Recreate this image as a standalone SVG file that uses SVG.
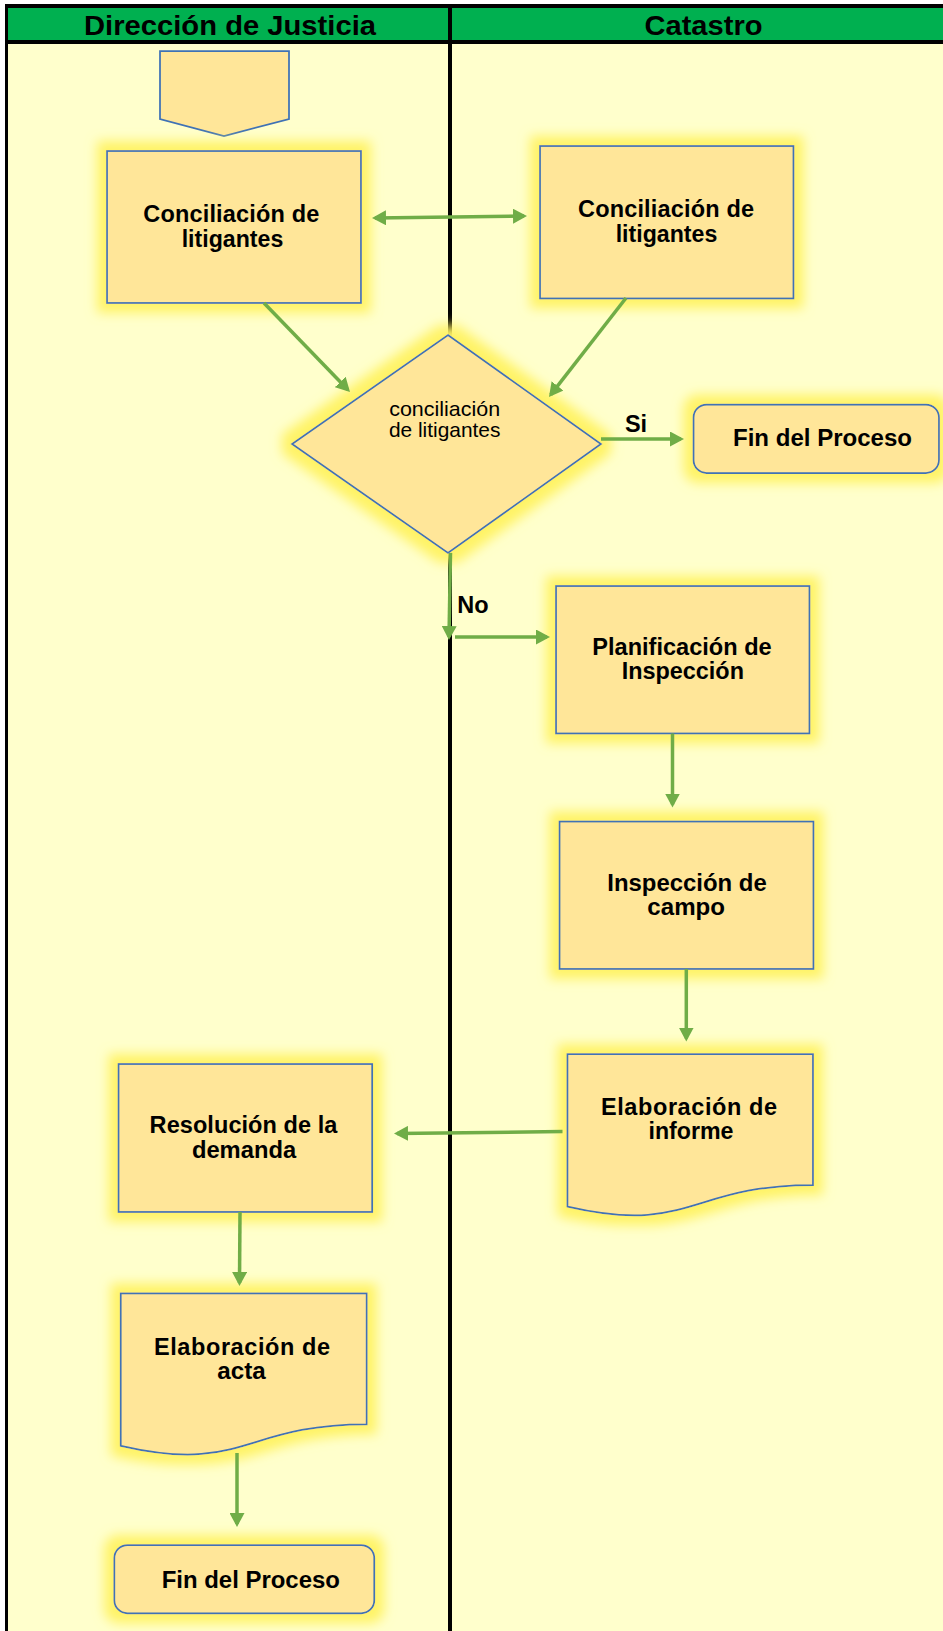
<svg xmlns="http://www.w3.org/2000/svg" width="943" height="1631" viewBox="0 0 943 1631">
  <style>
    .lane-bg { fill: #FFFFCC; }
    .head { fill: #00B050; }
    .rule { stroke: #000000; fill: none; }
    .head-txt { font-family: "Liberation Sans", Arial, sans-serif; font-weight: bold; font-size: 28px; fill: #000000; text-anchor: middle; }
    .shape { fill: #FFE699; stroke: #3F72B5; stroke-width: 1.75; }
    .lbl { font-family: "Liberation Sans", Arial, sans-serif; font-weight: bold; font-size: 23.5px; fill: #000000; text-anchor: middle; }
    .lbl-reg { font-family: "Liberation Sans", Arial, sans-serif; font-size: 21px; fill: #000000; text-anchor: middle; }
    .flow { stroke: #70AD47; stroke-width: 3.5; fill: none; marker-end: url(#head); }
  </style>
  <defs>
    <!-- soft yellow halo drawn behind each process shape -->
    <filter id="halo" x="-30%" y="-40%" width="160%" height="180%">
      <feMorphology in="SourceAlpha" operator="dilate" radius="9" result="grown"/>
      <feGaussianBlur in="grown" stdDeviation="6" result="soft"/>
      <feFlood flood-color="#FFF366"/>
      <feComposite in2="soft" operator="in" result="glow"/>
      <feMerge>
        <feMergeNode in="glow"/>
        <feMergeNode in="SourceGraphic"/>
      </feMerge>
    </filter>
    <marker id="head" viewBox="0 0 14 15" refX="11" refY="7.5" markerWidth="14" markerHeight="15" markerUnits="userSpaceOnUse" orient="auto-start-reverse">
      <path d="M0,0 L14,7.5 L0,15 Z" fill="#70AD47"/>
    </marker>
  </defs>

  <!-- page and swimlanes -->
  <rect x="0" y="0" width="943" height="1631" fill="#FFFFFF"/>
  <g id="lanes">
    <rect class="lane-bg" x="7" y="42" width="936" height="1589"/>
    <rect class="head" x="7" y="7" width="936" height="34"/>
    <line class="rule" x1="5" y1="6" x2="943" y2="6" stroke-width="4"/>
    <line class="rule" x1="5" y1="42" x2="943" y2="42" stroke-width="4"/>
    <line class="rule" x1="6.5" y1="4" x2="6.5" y2="1631" stroke-width="3"/>
    <line class="rule" x1="450" y1="4" x2="450" y2="1631" stroke-width="4"/>
    <text class="head-txt" x="230" y="35" textLength="292" lengthAdjust="spacingAndGlyphs">Dirección de Justicia</text>
    <text class="head-txt" x="703.5" y="35" textLength="118" lengthAdjust="spacingAndGlyphs">Catastro</text>
  </g>

  <!-- nodes -->
  <g id="n-start">
    <polygon class="shape" points="160,51 289,51 289,119 224,136 160,119"/>
  </g>

  <g id="n-conciliacion-dj">
    <rect class="shape" x="107" y="151" width="254" height="152" filter="url(#halo)"/>
    <text class="lbl" x="231.3" y="221.7" textLength="176" lengthAdjust="spacing">Conciliación de</text>
    <text class="lbl" x="232.5" y="246.7" textLength="101.6" lengthAdjust="spacingAndGlyphs">litigantes</text>
  </g>

  <g id="n-conciliacion-cat">
    <rect class="shape" x="540" y="146" width="253.5" height="152.5" filter="url(#halo)"/>
    <text class="lbl" x="666" y="216.5" textLength="176" lengthAdjust="spacing">Conciliación de</text>
    <text class="lbl" x="666.5" y="241.5" textLength="101.6" lengthAdjust="spacingAndGlyphs">litigantes</text>
  </g>

  <g id="n-decision">
    <polygon class="shape" points="448,335 601,444 448,553 292,444" filter="url(#halo)"/>
    <text class="lbl-reg" x="444.7" y="415.7" textLength="111" lengthAdjust="spacingAndGlyphs">conciliación</text>
    <text class="lbl-reg" x="444.7" y="436.7" textLength="111.5" lengthAdjust="spacingAndGlyphs">de litigantes</text>
  </g>

  <g id="n-fin-cat">
    <rect class="shape" x="693.5" y="404.5" width="245.5" height="68.5" rx="13" ry="13" filter="url(#halo)"/>
    <text class="lbl" x="822.5" y="446" textLength="179" lengthAdjust="spacingAndGlyphs">Fin del Proceso</text>
  </g>

  <g id="n-planificacion">
    <rect class="shape" x="556" y="586" width="253.5" height="147.5" filter="url(#halo)"/>
    <text class="lbl" x="682" y="655" textLength="179.4" lengthAdjust="spacingAndGlyphs">Planificación de</text>
    <text class="lbl" x="682.8" y="679" textLength="122.3" lengthAdjust="spacingAndGlyphs">Inspección</text>
  </g>

  <g id="n-inspeccion">
    <rect class="shape" x="559.5" y="821.5" width="254" height="147.5" filter="url(#halo)"/>
    <text class="lbl" x="687" y="891" textLength="159.4" lengthAdjust="spacingAndGlyphs">Inspección de</text>
    <text class="lbl" x="686.2" y="915" textLength="77.7" lengthAdjust="spacingAndGlyphs">campo</text>
  </g>

  <g id="n-informe">
    <path class="shape" d="M567.4,1054 H813 V1185 C690.2,1185 690.2,1235 567.4,1206.6 Z" filter="url(#halo)"/>
    <text class="lbl" x="689" y="1115" textLength="176" lengthAdjust="spacing">Elaboración de</text>
    <text class="lbl" x="691" y="1139" textLength="85" lengthAdjust="spacingAndGlyphs">informe</text>
  </g>

  <g id="n-resolucion">
    <rect class="shape" x="118.5" y="1064" width="253.7" height="148" filter="url(#halo)"/>
    <text class="lbl" x="243.5" y="1133.3" textLength="187.8" lengthAdjust="spacing">Resolución de la</text>
    <text class="lbl" x="244" y="1158.3" textLength="104.2" lengthAdjust="spacingAndGlyphs">demanda</text>
  </g>

  <g id="n-acta">
    <path class="shape" d="M120.7,1293.3 H366.7 V1424.3 C243.7,1424.3 243.7,1474.2 120.7,1445.8 Z" filter="url(#halo)"/>
    <text class="lbl" x="242" y="1355" textLength="176" lengthAdjust="spacing">Elaboración de</text>
    <text class="lbl" x="241.5" y="1379.3" textLength="48.4" lengthAdjust="spacingAndGlyphs">acta</text>
  </g>

  <g id="n-fin-dj">
    <rect class="shape" x="114.3" y="1545" width="260" height="68.3" rx="13" ry="13" filter="url(#halo)"/>
    <text class="lbl" x="250.8" y="1588.3" textLength="178.3" lengthAdjust="spacingAndGlyphs">Fin del Proceso</text>
  </g>

  <!-- connectors -->
  <g id="connectors">
    <line class="flow" x1="375" y1="218" x2="524" y2="216" marker-start="url(#head)"/>
    <line class="flow" x1="264" y1="303" x2="347.9" y2="389.8"/>
    <line class="flow" x1="626" y1="298" x2="550.8" y2="394.6"/>
    <line class="flow" x1="601" y1="439" x2="681" y2="439"/>
    <line class="flow" x1="450.5" y1="553" x2="449" y2="637"/>
    <line class="flow" x1="455" y1="637" x2="547" y2="637"/>
    <line class="flow" x1="672.5" y1="733.5" x2="672.5" y2="804.5"/>
    <line class="flow" x1="686.3" y1="969" x2="686.3" y2="1038.5"/>
    <line class="flow" x1="562.5" y1="1131.5" x2="397" y2="1133.5"/>
    <line class="flow" x1="240" y1="1212" x2="239.5" y2="1283"/>
    <line class="flow" x1="237" y1="1453" x2="237" y2="1524"/>
    <text class="lbl" x="636" y="432">Si</text>
    <text class="lbl" x="473" y="612.7">No</text>
  </g>
</svg>
